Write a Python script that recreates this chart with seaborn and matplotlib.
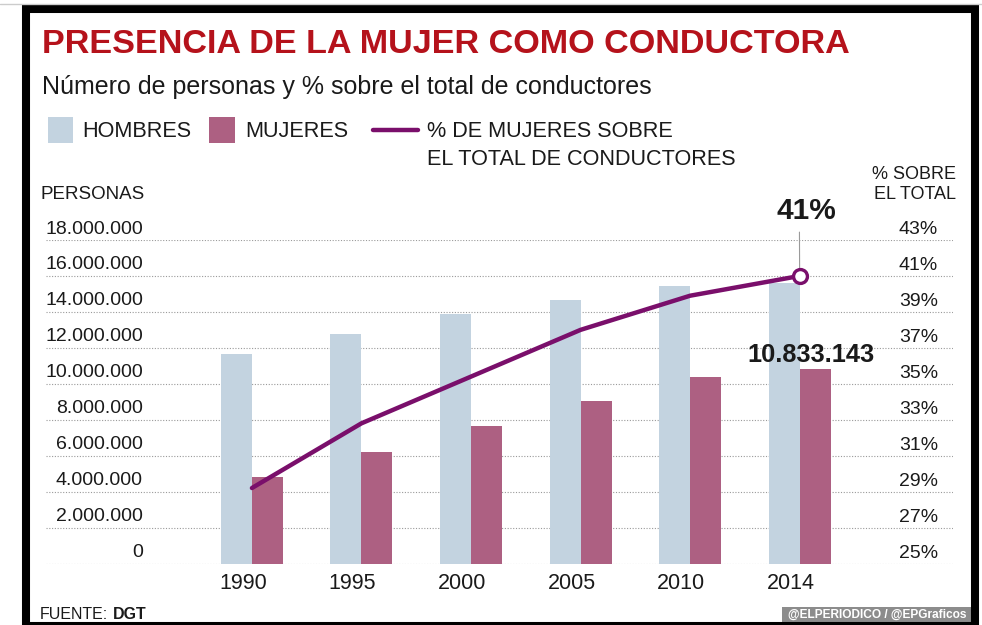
import numpy as np
import pandas as pd
import matplotlib
matplotlib.use('Agg')
import matplotlib.pyplot as plt
import matplotlib.transforms as mtransforms
from matplotlib.patches import Rectangle
from matplotlib.lines import Line2D
import seaborn as sns

sns.set_theme(style='white')
plt.rcParams['font.family'] = ['Liberation Sans', 'DejaVu Sans']

# datos
years = ['1990', '1995', '2000', '2005', '2010', '2014']
hombres = [11640000, 12750000, 13860000, 14640000, 15430000, 15600000]
mujeres = [4820000, 6210000, 7640000, 9030000, 10360000, 10833143]
pct_mujeres = [29.2, 32.8, 35.4, 38.0, 39.9, 41.0]

personas_ticks = list(range(0, 18000001, 2000000))
pct_ticks = list(range(25, 44, 2))

c_hombres = '#c3d3e0'
c_mujeres = '#ad6082'
c_linea = '#7a0f6b'
c_rojo = '#b5121b'
c_texto = '#1a1a1a'


def miles(v):
    return f'{int(round(v)):,}'.replace(',', '.')


W, H = 982, 625
fig = plt.figure(figsize=(W / 100, H / 100), dpi=100)
fig.patch.set_facecolor('white')


def fx(x):
    return x / W


def fy(y):
    return 1 - y / H


ax = fig.add_axes([fx(46), fy(563.5), fx(953) - fx(46), fy(240) - fy(563.5)])

df = pd.DataFrame({
    'año': years * 2,
    'grupo': ['HOMBRES'] * len(years) + ['MUJERES'] * len(years),
    'personas': hombres + mujeres,
})
bar_width = 0.566
sns.barplot(data=df, x='año', y='personas', hue='grupo',
            palette={'HOMBRES': c_hombres, 'MUJERES': c_mujeres},
            width=bar_width, errorbar=None, legend=False, saturation=1,
            linewidth=0, ax=ax)

# eje derecho: porcentaje
ax2 = ax.twinx()
ax2.set_ylim(25, 43)
ax2.axis('off')

ax.set_xlim(-1.88, 6.40)
ax.set_ylim(0, 18000000)
ax.set_yticks(personas_ticks)
ax.yaxis.grid(True, color='#9a9a9a', linewidth=0.8, linestyle=(0, (1, 1.5)))
ax.set_axisbelow(True)
ax.tick_params(axis='y', left=False, right=False, labelleft=False, labelright=False)
ax.set_xticks(range(len(years)))
ax.set_xticklabels(years, fontsize=15.5, color=c_texto)
ax.tick_params(axis='x', length=0, pad=7)
for lbl in ax.get_xticklabels():
    lbl.set_transform(lbl.get_transform() + mtransforms.ScaledTranslation(-0.09, 0, fig.dpi_scale_trans))
ax.set_xlabel('')
ax.set_ylabel('')
for s in ax.spines.values():
    s.set_visible(False)

# etiquetas eje izquierdo (encima de las líneas de guía)
trans_l = mtransforms.blended_transform_factory(ax.transAxes, ax.transData) + \
    mtransforms.ScaledTranslation(0, 0.11, fig.dpi_scale_trans)
for v in personas_ticks:
    ax.text((143 - 46) / 907, v, miles(v), ha='right', va='center',
            fontsize=14, color=c_texto, transform=trans_l)

trans_r = mtransforms.blended_transform_factory(ax2.transAxes, ax2.transData) + \
    mtransforms.ScaledTranslation(0, 0.10, fig.dpi_scale_trans)
for v in pct_ticks:
    ax2.text((938 - 46) / 907, v, f'{v}%', ha='right', va='center',
             fontsize=14, color=c_texto, transform=trans_r)

xpos = np.arange(len(years))
sns.lineplot(x=xpos, y=pct_mujeres, ax=ax2, color=c_linea, linewidth=3.2, legend=False)
ax2.plot(xpos[-1], pct_mujeres[-1], 'o', ms=10, mfc='white', mec=c_linea, mew=2.4, zorder=5)
ax2.annotate(f'{pct_mujeres[-1]:.0f}%', xy=(xpos[-1], pct_mujeres[-1]), xytext=(5, 47),
             textcoords='offset points', ha='center', va='center',
             fontsize=21.5, fontweight='bold', color=c_texto, annotation_clip=False,
             arrowprops=dict(arrowstyle='-', color='#9a9a9a', lw=0.8,
                             relpos=(0.38, 0), shrinkA=3, shrinkB=5))
ax2.annotate(miles(mujeres[-1]), xy=(xpos[-1] + bar_width / 4, mujeres[-1] / 1e6 + 25),
             xytext=(-3, 10), textcoords='offset points', ha='center', va='center',
             fontsize=18.3, fontweight='bold', color=c_texto)

# cabecera
fig.text(fx(42), fy(53), 'PRESENCIA DE LA MUJER COMO CONDUCTORA', fontsize=24.6,
         fontweight='bold', color=c_rojo, va='baseline')
fig.text(fx(42), fy(94), 'Número de personas y % sobre el total de conductores',
         fontsize=18.0, color=c_texto, va='baseline')

# leyenda
fig.add_artist(Rectangle((fx(48), fy(143)), fx(73) - fx(48), fy(117) - fy(143),
                         transform=fig.transFigure, color=c_hombres, lw=0))
fig.text(fx(82), fy(137), 'HOMBRES', fontsize=15.6, color=c_texto, va='baseline')
fig.add_artist(Rectangle((fx(209), fy(143)), fx(235) - fx(209), fy(117) - fy(143),
                         transform=fig.transFigure, color=c_mujeres, lw=0))
fig.text(fx(245), fy(137), 'MUJERES', fontsize=15.6, color=c_texto, va='baseline')
fig.add_artist(Line2D([fx(373), fx(418)], [fy(130), fy(130)], transform=fig.transFigure,
                      color=c_linea, lw=3.2))
fig.text(fx(427), fy(137), '% DE MUJERES SOBRE', fontsize=15.6, color=c_texto, va='baseline')
fig.text(fx(427), fy(165), 'EL TOTAL DE CONDUCTORES', fontsize=15.6, color=c_texto, va='baseline')

fig.text(fx(40), fy(199), 'PERSONAS', fontsize=13.5, color=c_texto, va='baseline')
fig.text(fx(956), fy(179), '% SOBRE', fontsize=13, color=c_texto, va='baseline', ha='right')
fig.text(fx(956), fy(199), 'EL TOTAL', fontsize=13, color=c_texto, va='baseline', ha='right')

# pie
fig.text(fx(40), fy(619), 'FUENTE:', fontsize=11.5, color=c_texto, va='baseline')
fig.text(fx(113), fy(619), 'DGT', fontsize=11.5, fontweight='bold', color=c_texto, va='baseline')
fig.add_artist(Rectangle((fx(782), fy(622)), fx(972) - fx(782), fy(607) - fy(622),
                         transform=fig.transFigure, color='#8c8c8c', lw=0))
fig.text(fx(877), fy(614.5), '@ELPERIODICO / @EPGraficos', fontsize=8.6, color='white',
         fontweight='bold', ha='center', va='center')

# marco
fig.add_artist(Line2D([0, 1], [fy(3.5), fy(3.5)], transform=fig.transFigure,
                      color='#cccccc', lw=1))
fig.add_artist(Rectangle((fx(25.5), fy(625.5)), fx(975) - fx(25.5), fy(9) - fy(625.5),
                         transform=fig.transFigure, fill=False, edgecolor='black', lw=5.8))

fig.savefig('out.png', dpi=100)
